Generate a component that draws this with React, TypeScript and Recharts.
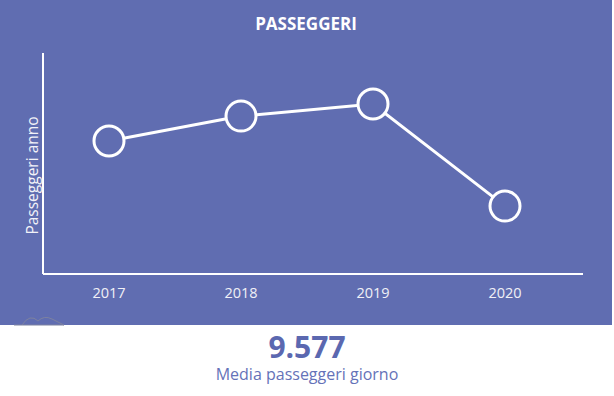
import React from 'react';
import { LineChart, Line, XAxis, YAxis } from 'recharts';

const years = ['2017', '2018', '2019', '2020'];
const passengersMillions = [3.31, 3.93, 4.23, 1.69];
const yDomain: [number, number] = [0, 5.5];
const title = 'PASSEGGERI';
const yLabel = 'Passeggeri anno';
const kpiValue = '9.577';
const kpiLabel = 'Media passeggeri giorno';

const data = years.map((y, i) => ({ year: y, value: passengersMillions[i] }));

const BG = '#606db1';
const FONT = '"Open Sans", "Noto Sans", sans-serif';

const YLabel = (props: any) => {
  const vb = props.viewBox || {};
  const cx = vb.x + vb.width - 11;
  const cy = vb.y + vb.height / 2 + 12;
  return (
    <text
      x={cx}
      y={cy}
      transform={`rotate(-90 ${cx} ${cy})`}
      textAnchor="middle"
      dominantBaseline="central"
      fill="#f2f2f8"
      fontSize={15.5}
      fontWeight={500}
      fontFamily={FONT}
    >
      {yLabel}
    </text>
  );
};

export default function App() {
  return (
    <div
      style={{
        position: 'fixed',
        left: 0,
        top: 0,
        width: 614,
        height: 396,
        background: '#ffffff',
        fontFamily: FONT,
        overflow: 'hidden',
      }}
    >
      <div style={{ position: 'absolute', left: 0, top: 0, width: 612, height: 325, background: BG }}>
        <div
          style={{
            position: 'absolute',
            left: 0,
            top: 12,
            width: 612,
            textAlign: 'center',
            color: '#ffffff',
            fontWeight: 700,
            fontSize: 17,
            lineHeight: '24px',
          }}
        >
          {title}
        </div>
        <LineChart
          width={612}
          height={325}
          data={data}
          margin={{ top: 53, right: 29, left: 42, bottom: 21 }}
        >
          <XAxis
            dataKey="year"
            padding={{ left: 66, right: 78 }}
            height={30}
            tickLine={false}
            tickMargin={8}
            axisLine={{ stroke: '#ffffff', strokeWidth: 2 }}
            tick={{ fill: '#f0f0f6', fontSize: 14.5, fontWeight: 500, fontFamily: FONT }}
          />
          <YAxis
            width={1}
            domain={yDomain}
            tick={false}
            tickLine={false}
            axisLine={{ stroke: '#ffffff', strokeWidth: 2 }}
            label={<YLabel />}
          />
          <Line
            type="linear"
            dataKey="value"
            stroke="#ffffff"
            strokeWidth={3}
            isAnimationActive={false}
            dot={{ r: 15, fill: BG, stroke: '#ffffff', strokeWidth: 3 }}
            activeDot={false}
          />
        </LineChart>
        <svg style={{ position: 'absolute', left: 12, top: 312 }} width={56} height={16}>
          <path d="M2 13 L52 13" stroke="#7d82a0" strokeWidth={1} fill="none" />
          <path d="M10 13 Q18 1 26 9 Q32 3 40 7 Q46 10 52 13" stroke="#7d82a0" strokeWidth={1} fill="none" />
        </svg>
      </div>
      <div
        style={{
          position: 'absolute',
          left: 0,
          top: 329,
          width: 614,
          textAlign: 'center',
          color: '#5b68b0',
          fontWeight: 700,
          fontSize: 30,
          lineHeight: '36px',
        }}
      >
        {kpiValue}
      </div>
      <div
        style={{
          position: 'absolute',
          left: 0,
          top: 363,
          width: 614,
          textAlign: 'center',
          color: '#6572b8',
          fontSize: 16,
          lineHeight: '22px',
        }}
      >
        {kpiLabel}
      </div>
    </div>
  );
}
